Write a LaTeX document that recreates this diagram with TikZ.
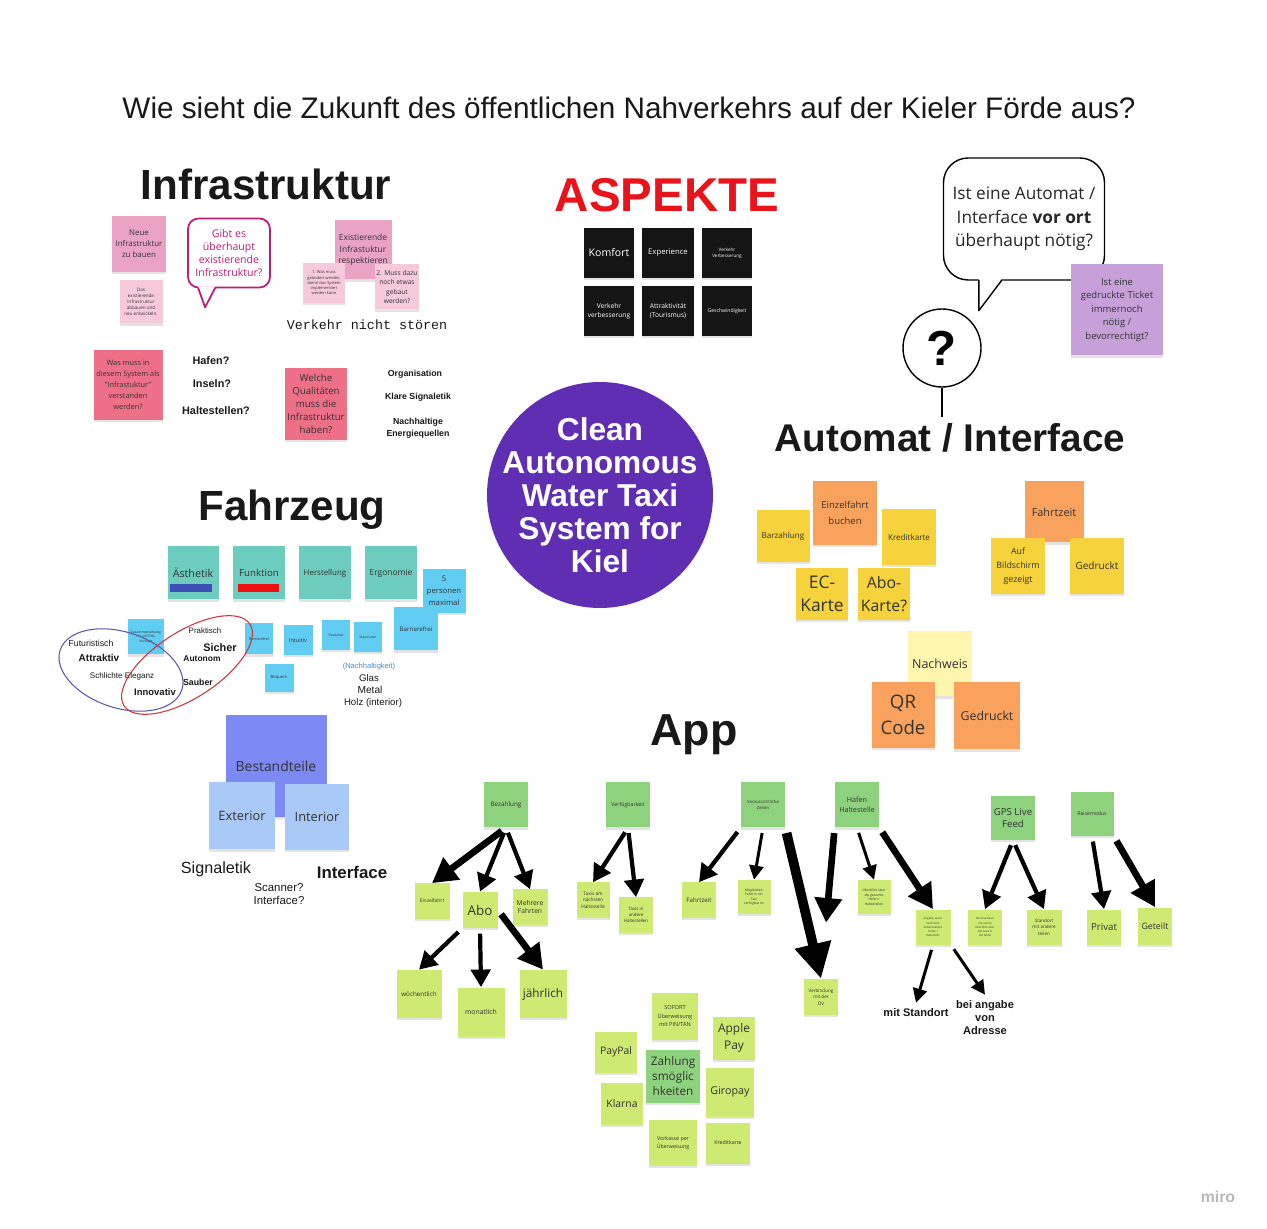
\documentclass[tikz,border=0pt]{standalone}
\usepackage{fontspec}
\setmainfont{Open Sans}
\newfontfamily\arial{Liberation Sans}
\newfontfamily\mono{Liberation Mono}
\usepackage{xcolor}
\usepackage{tikz}
\usetikzlibrary{arrows.meta,shadows,calc}

\definecolor{pinkA}{HTML}{EBA3C4}
\definecolor{pinkL}{HTML}{F6CADB}
\definecolor{pinkR}{HTML}{EE6F88}
\definecolor{magent}{HTML}{C21A78}
\definecolor{nblack}{HTML}{151515}
\definecolor{aspred}{HTML}{E8131B}
\definecolor{purp}{HTML}{C7A0D9}
\definecolor{yellowN}{HTML}{F6D23C}
\definecolor{orangeN}{HTML}{F8A25E}
\definecolor{paleY}{HTML}{FEF6AE}
\definecolor{tealN}{HTML}{6CCDBF}
\definecolor{cyanN}{HTML}{62CDF2}
\definecolor{bestB}{HTML}{7D8AF3}
\definecolor{lightB}{HTML}{A9C9F6}
\definecolor{greenN}{HTML}{8FD27E}
\definecolor{limeN}{HTML}{CFEA73}
\definecolor{kielP}{HTML}{602EB3}
\definecolor{ellB}{HTML}{5A58A8}
\definecolor{ellR}{HTML}{D2323F}
\definecolor{barB}{HTML}{3F4FB8}
\definecolor{barR}{HTML}{F01010}
\definecolor{nachB}{HTML}{3C8FD6}

\newcommand{\fsz}[2]{\fontsize{#1}{#2}\selectfont}

\begin{document}
\begin{tikzpicture}[x=0.2mm,y=-0.2mm,
    note/.style={fill=#1, align=center, inner sep=1pt, text=black!80,
      drop shadow={shadow xshift=0pt, shadow yshift=-1.3pt, opacity=0.22}},
    sz/.style 2 args={minimum width=#1*0.2mm, minimum height=#2*0.2mm},
    head/.style={font=\arial\bfseries\fsz{24}{28}, text=black!90},
    lbl/.style={align=center, text=black!90},
    arr/.style={-{Triangle[length=10pt,width=11pt]}, line width=2.4pt, shorten <=3pt},
    smarr/.style={-{Triangle[length=8pt,width=8pt]}, line width=1.7pt, shorten <=3pt},
    bigarr/.style={-{Triangle[length=14pt,width=15pt]}, line width=3.8pt, shorten <=3pt},
    hugearr/.style={-{Triangle[length=20pt,width=20pt]}, line width=5.5pt, shorten <=3pt}]
    \useasboundingbox (0,0) rectangle (1267,1229);
    \fill[white] (0,0) rectangle (1267,1229);

    \node[lbl, font=\arial\fsz{16.9}{19}] (title) at (629,108) {Wie sieht die Zukunft des öffentlichen Nahverkehrs auf der Kieler Förde aus?};

    \node[head] (infra) at (266,184) {Infrastruktur};
    \node[head, font=\arial\bfseries\fsz{27}{30}, text=aspred] (asp) at (667,195) {ASPEKTE};
    \node[head, font=\arial\bfseries\fsz{22}{26}] (auto) at (950,438) {Automat / Interface};
    \node[head] (fahr) at (292,510) {Fahrzeug};
    \node[head, font=\arial\bfseries\fsz{25.5}{28}] (app) at (694,735) {App};

    \fill[kielP] (600,495) circle (113);
    \node[text=white, align=center, font=\arial\bfseries\fsz{18}{18.8}] (kiel) at (600,495) {Clean\\Autonomous\\Water Taxi\\System for\\Kiel};

    \node[note=pinkA, sz={54}{56}, font=\fsz{4.5}{6.2}] (neu) at (139,244) {Neue\\Infrastruktur\\zu bauen};
    \node[note=pinkL, sz={43}{43}, font=\fsz{2.6}{3.4}] (abbau) at (141,302) {Das\\existierende\\Infrastruktur\\abbauen und\\neu entwickeln.};
    \node[draw=magent, line width=1pt, rounded corners=6pt, fill=white, sz={82}{69}, text=magent,
      align=center, font=\fsz{6}{7.4}] (gibt) at (229,253) {Gibt es\\überhaupt\\existierende\\Infrastruktur?};
    \fill[white] ($(gibt.south west)+(11,-2)$) -- ($(gibt.south west)+(18,18)$) -- ($(gibt.south west)+(28,-2)$) -- cycle;
    \draw[magent, line width=1pt, line join=round] ($(gibt.south west)+(11,-0.5)$) -- ($(gibt.south west)+(18,19)$) -- ($(gibt.south west)+(28,-0.5)$);
    \node[note=pinkA, sz={57}{59}, font=\fsz{4.8}{6.5}] (resp) at (363,250) {Existierende\\Infrastuktur\\respektieren};
    \node[note=pinkL, sz={42}{40}, font=\fsz{2.3}{3}] (was1) at (324,283) {1. Was muss\\geändert werden,\\damit das System\\implementiert\\werden kann};
    \node[note=pinkL, sz={43}{45}, font=\fsz{3.8}{5.2}] (muss2) at (397,287) {2. Muss dazu\\noch etwas\\gebaut\\werden?};
    \node[lbl, font=\mono\fsz{7.6}{9}] (stoer) at (367,325) {Verkehr nicht stören};
    \node[note=pinkR, sz={69}{70}, font=\fsz{4.2}{6.2}] (wasmuss) at (128,385) {Was muss in\\diesem System als\\"Infrastuktur"\\verstanden\\werden?};
    \node[lbl, font=\arial\bfseries\fsz{6.2}{7}] (hafen) at (211,361) {Hafen?};
    \node[lbl, font=\arial\bfseries\fsz{6.2}{7}] (inseln) at (212,384) {Inseln?};
    \node[lbl, font=\arial\bfseries\fsz{6.2}{7}] (halt) at (216,411) {Haltestellen?};
    \node[note=pinkR, sz={62}{72}, font=\fsz{5.5}{7.4}] (qual) at (316,404) {Welche\\Qualitäten\\muss die\\Infrastruktur\\haben?};
    \node[lbl, font=\arial\bfseries\fsz{5}{6.8}] (org) at (415,374) {Organisation};
    \node[lbl, font=\arial\bfseries\fsz{5}{6.8}] (klar) at (418,397) {Klare Signaletik};
    \node[lbl, font=\arial\bfseries\fsz{5}{6.8}] (nach) at (418,428) {Nachhaltige\\Energiequellen};

    \node[note=nblack, sz={50}{50}, text=white, font=\fsz{6}{7}] (komf) at (609,253) {Komfort};
    \node[note=nblack, sz={52}{50}, text=white, font=\fsz{4.4}{5.5}] (exp) at (668,253) {Experience};
    \node[note=nblack, sz={50}{50}, text=white, font=\fsz{2.6}{3.4}] (vv1) at (727,253) {Verkehr\\Verbesserung};
    \node[note=nblack, sz={50}{50}, text=white, font=\fsz{3.8}{5}] (vv2) at (609,311) {Verkehr\\verbesserung};
    \node[note=nblack, sz={52}{50}, text=white, font=\fsz{3.8}{5}] (attr) at (668,311) {Attraktivität\\(Tourismus)};
    \node[note=nblack, sz={50}{50}, text=white, font=\fsz{2.9}{3.6}] (gesch) at (727,311) {Geschwindigkeit};

    \node[draw, line width=0.8pt, rounded corners=14pt, fill=white, sz={161}{122}, align=center,
      text=black!85, font=\fsz{9.8}{13.4}] (vorort) at (1024,219) {Ist eine Automat /\\Interface \textbf{vor ort}\\überhaupt nötig?};
    \fill[white] ($(vorort.south west)+(36,-2)$) -- ($(vorort.south west)+(36,29)$) -- ($(vorort.south west)+(59,-2)$) -- cycle;
    \draw[line width=0.8pt, line join=round] ($(vorort.south west)+(36,-0.5)$) -- ($(vorort.south west)+(36,30)$) -- ($(vorort.south west)+(59,-0.5)$);
    \node[note=purp, sz={92}{91}, font=\fsz{5.4}{7.6}] (ticket) at (1117,310) {Ist eine\\gedruckte Ticket\\immernoch\\nötig /\\bevorrechtigt?};
    \node[draw, circle, line width=0.8pt, minimum size=78*0.2mm, font=\arial\bfseries\fsz{28}{30}] (frage) at (942,348) {?};
    \draw[line width=0.8pt] (frage.south) -- (frage.south |- auto.north);

    \node[note=yellowN, sz={53}{52}, font=\fsz{4.6}{6}] (barz) at (783,536) {Barzahlung};
    \node[note=orangeN, sz={64}{64}, font=\fsz{5.4}{9}] (einzb) at (845,513) {Einzelfahrt\\buchen};
    \node[note=yellowN, sz={54}{56}, font=\fsz{4.6}{6}] (kred) at (909,537) {Kreditkarte};
    \node[note=yellowN, sz={52}{52}, font=\fsz{9.9}{13}] (ec) at (822,594) {EC-\\Karte};
    \node[note=yellowN, sz={52}{52}, font=\fsz{9}{13}] (abok) at (884,594) {Abo-\\Karte?};
    \node[note=orangeN, sz={59}{61}, font=\fsz{6.2}{8}] (fzeit) at (1054,512) {Fahrtzeit};
    \node[note=yellowN, sz={54}{56}, font=\fsz{5}{7.8}] (bild) at (1018,566) {Auf\\Bildschirm\\gezeigt};
    \node[note=yellowN, sz={54}{56}, font=\fsz{5.7}{7}] (gedr1) at (1097,566) {Gedruckt};
    \node[note=paleY, sz={64}{65}, font=\fsz{7.1}{9}] (nachw) at (940,664) {Nachweis};
    \node[note=orangeN, sz={63}{66}, font=\fsz{10.6}{14.8}] (qr) at (903,715) {QR\\Code};
    \node[note=orangeN, sz={66}{67}, font=\fsz{7}{9}] (gedr2) at (987,716) {Gedruckt};

    \node[note=tealN, sz={51}{53}, font=\fsz{6.1}{7}] (aesth) at (193,573) {Ästhetik};
    \fill[barB] ($(aesth.south west)+(3,-16)$) rectangle ($(aesth.south east)+(-7,-8)$);
    \node[note=tealN, sz={52}{53}, font=\fsz{5.5}{7}] (funk) at (259,573) {Funktion};
    \fill[barR] ($(funk.south west)+(5,-16)$) rectangle ($(funk.south east)+(-6,-8)$);
    \node[note=tealN, sz={52}{53}, font=\fsz{4.5}{6}] (herst) at (325,573) {Herstellung};
    \node[note=tealN, sz={52}{53}, font=\fsz{4.8}{6}] (ergo) at (391,573) {Ergonomie};
    \node[note=cyanN, sz={43}{44}, font=\fsz{4.4}{6.8}] (pers) at (444,591) {5\\personen\\maximal};
    \node[note=cyanN, sz={44}{43}, font=\fsz{3.5}{4.5}] (barr) at (416,629) {Barrierefrei};
    \node[note=cyanN, sz={36}{35}, font=\fsz{1.9}{2.6}] (zus) at (146,637) {Zusammenwirkung\\mit CMT/ML\\Konzept};
    \node[note=cyanN, sz={28}{31}, font=\fsz{2.1}{2.8}] (barr2) at (259,639) {Barrierefrei};
    \node[note=cyanN, sz={29}{30}, font=\fsz{3.2}{4}] (intu) at (298,640) {Intuitiv};
    \node[note=cyanN, sz={28}{30}, font=\fsz{1.8}{2.4}] (flex) at (336,635) {Flexibilität};
    \node[note=cyanN, sz={28}{30}, font=\fsz{1.8}{2.4}] (mat) at (368,637) {Materialien};
    \node[note=cyanN, sz={29}{28}, font=\fsz{2.4}{3}] (bequ) at (279,678) {Bequem};

    \draw[ellB, line width=0.6pt, rotate around={-18:(121,670)}] (121,670) ellipse (64 and 38);
    \draw[ellR, line width=0.6pt, rotate around={33:(187,665)}] (187,665) ellipse (75 and 33);
    \node[lbl, font=\arial\fsz{5}{6}] (futur) at (91,643) {Futuristisch};
    \node[lbl, font=\arial\bfseries\fsz{5.7}{6.5}] (attrk) at (99,658) {Attraktiv};
    \node[lbl, font=\arial\fsz{4.6}{5.5}] (schl) at (122,676) {Schlichte Eleganz};
    \node[lbl, font=\arial\bfseries\fsz{5.4}{6.5}] (innov) at (155,692) {Innovativ};
    \node[lbl, font=\arial\fsz{4.5}{5.5}] (prakt) at (205,631) {Praktisch};
    \node[lbl, font=\arial\bfseries\fsz{6.2}{7}] (sich) at (220,648) {Sicher};
    \node[lbl, font=\arial\bfseries\fsz{4.8}{6}] (auton) at (202,659) {Autonom};
    \node[lbl, font=\arial\bfseries\fsz{5}{6}] (saub) at (198,682) {Sauber};
    \node[lbl, font=\arial\fsz{4.3}{5}, text=nachB] (nachh) at (369,667) {(Nachhaltigkeit)};
    \node[lbl, font=\arial\fsz{5.5}{6.5}] (glas) at (369,678) {Glas};
    \node[lbl, font=\arial\fsz{5.8}{6.5}] (metal) at (370,690) {Metal};
    \node[lbl, font=\arial\fsz{5.5}{6.5}] (holz) at (373,703) {Holz (interior)};

    \node[note=bestB, sz={101}{102}, font=\fsz{7.9}{9}] (best) at (276,766) {Bestandteile};
    \node[note=lightB, sz={66}{67}, font=\fsz{7.3}{9}] (ext) at (242,816) {Exterior};
    \node[note=lightB, sz={64}{66}, font=\fsz{7.3}{9}] (int) at (317,817) {Interior};
    \node[lbl, font=\arial\fsz{9.2}{11}] (signal) at (216,869) {Signaletik};
    \node[lbl, font=\arial\bfseries\fsz{9.6}{11}] (intf) at (352,872) {Interface};
    \node[lbl, font=\arial\fsz{6.5}{7.4}] (scan) at (279,894) {Scanner?\\Interface?};

    \node[note=greenN, sz={44}{45}, font=\fsz{3.6}{4.5}] (bez) at (506,805) {Bezahlung};
    \node[note=greenN, sz={44}{45}, font=\fsz{3}{4}] (verf) at (628,805) {Verfügbarkeit};
    \node[note=greenN, sz={44}{45}, font=\fsz{2.4}{3.2}] (vor) at (763,805) {Voraussichtliche\\Zeiten};
    \node[note=greenN, sz={44}{45}, font=\fsz{4.1}{5.8}] (haf) at (857,805) {Hafen\\Haltestelle};
    \node[note=greenN, sz={44}{44}, font=\fsz{5.5}{7}] (gps) at (1013,818) {GPS Live\\Feed};
    \node[note=greenN, sz={43}{44}, font=\fsz{2.9}{3.8}] (reise) at (1092,814) {Reisemodus};

    \node[note=limeN, sz={35}{35}, font=\fsz{2.8}{3.6}] (einz) at (432,901) {Einzelfahrt};
    \node[note=limeN, sz={35}{36}, font=\fsz{7.6}{9}] (abo) at (480,910) {Abo};
    \node[note=limeN, sz={35}{35}, font=\fsz{3.8}{5}] (mehr) at (530,907) {Mehrere\\Fahrten};
    \node[note=limeN, sz={45}{48}, font=\fsz{3.6}{4.5}] (woe) at (419,994) {wöchentlich};
    \node[note=limeN, sz={47}{49}, font=\fsz{3.9}{5}] (mon) at (481,1012) {monatlich};
    \node[note=limeN, sz={47}{48}, font=\fsz{6.7}{8}] (jahr) at (543,994) {jährlich};
    \node[note=limeN, sz={33}{35}, font=\fsz{2.7}{3.6}] (taxa) at (593,900) {Taxis am\\nächsten\\Haltestelle};
    \node[note=limeN, sz={34}{35}, font=\fsz{2.5}{3.5}] (taxi) at (636,915) {Taxis in\\andere\\Haltestellen};
    \node[note=limeN, sz={34}{35}, font=\fsz{3.5}{4.5}] (fzt) at (699,900) {Fahrtzeit};
    \node[note=limeN, sz={33}{34}, font=\fsz{1.9}{2.6}] (moeg) at (754,897) {Möglichkeit\\Fahrt in ein\\Taxi\\verfügbar ist};
    \node[note=limeN, sz={34}{36}, font=\fsz{2.6}{3.6}] (verb) at (821,997) {Verbindung\\mit der\\ÖV};
    \node[note=limeN, sz={33}{34}, font=\fsz{1.9}{2.6}] (ueber) at (874,897) {Überblick über\\die gesamte\\Hafen /\\Haltestellen};
    \node[note=limeN, sz={35}{35}, font=\fsz{1.6}{2.3}] (angabe) at (933,927) {Angabe, wann\\nach dem\\Aufenthaltsort\\Hafen /\\Haltestelle};
    \node[note=limeN, sz={34}{35}, font=\fsz{1.6}{2.3}] (bei) at (985,927) {Bei Live-Feed\\mit einem\\Überblick über\\alle Taxis in\\der Nähe};
    \node[note=limeN, sz={35}{35}, font=\fsz{2.6}{3.6}] (stand) at (1044,927) {Standort\\mit andere\\teilen};
    \node[note=limeN, sz={34}{35}, font=\fsz{5.5}{6.5}] (priv) at (1104,927) {Privat};
    \node[note=limeN, sz={34}{37}, font=\fsz{5}{6}] (get) at (1155,926) {Geteilt};
    \node[lbl, font=\arial\bfseries\fsz{6.3}{7.4}] (mitst) at (916,1013) {mit Standort};
    \node[lbl, font=\arial\bfseries\fsz{6.3}{7.4}] (beiang) at (985,1018) {bei angabe\\von\\Adresse};

    \draw[bigarr] (bez.south) -- (einz.north);
    \draw[arr] (bez.south) -- (abo.north);
    \draw[arr] (bez.south) -- (mehr.north);
    \draw[arr] (abo.south west) -- (woe.north);
    \draw[arr] (abo.south) -- (mon.north);
    \draw[bigarr] (abo.east) -- (jahr.north);
    \draw[arr] (verf.south) -- (taxa.north);
    \draw[arr] (verf.south) -- (taxi.north);
    \draw[arr] (vor.south west) -- (fzt.north);
    \draw[smarr] (vor.south) -- (moeg.north);
    \draw[hugearr] (vor.south east) -- (verb.north);
    \draw[bigarr, shorten >=32pt] (haf.south west) -- (verb.north);
    \draw[smarr] (haf.south) -- (ueber.north);
    \draw[bigarr] (haf.south east) -- (angabe.north);
    \draw[arr] (gps.south) -- (bei.north);
    \draw[arr] (gps.south) -- (stand.north);
    \draw[arr] (reise.south) -- (priv.north);
    \draw[bigarr] (reise.south east) -- (get.north);
    \draw[smarr] (angabe.south) -- (mitst.north);
    \draw[smarr] (angabe.south east) -- (beiang.north);

    \node[note=limeN, sz={46}{47}, font=\fsz{3.2}{4.8}] (sofort) at (675,1016) {SOFORT\\Überweisung\\mit PIN/TAN};
    \node[note=limeN, sz={42}{41}, font=\fsz{5.9}{7}] (paypal) at (616,1052) {PayPal};
    \node[note=greenN, sz={54}{53}, font=\fsz{6.7}{8.5}] (zahl) at (673,1076) {Zahlung\\smöglic\\hkeiten};
    \node[note=limeN, sz={42}{43}, font=\fsz{6.8}{9.7}] (apple) at (734,1038) {Apple\\Pay};
    \node[note=limeN, sz={42}{42}, font=\fsz{5.9}{7}] (klarna) at (622,1104) {Klarna};
    \node[note=limeN, sz={48}{49}, font=\fsz{6.1}{7}] (giro) at (730,1092) {Giropay};
    \node[note=limeN, sz={48}{46}, font=\fsz{3}{4.6}] (vork) at (673,1143) {Vorkasse per\\Überweisung};
    \node[note=limeN, sz={44}{41}, font=\fsz{3}{4}] (kredk) at (728,1143) {Kreditkarte};

    \node[lbl, font=\arial\bfseries\fsz{9}{10}, text=black!28] (miro) at (1218,1197) {miro};
\end{tikzpicture}
\end{document}
